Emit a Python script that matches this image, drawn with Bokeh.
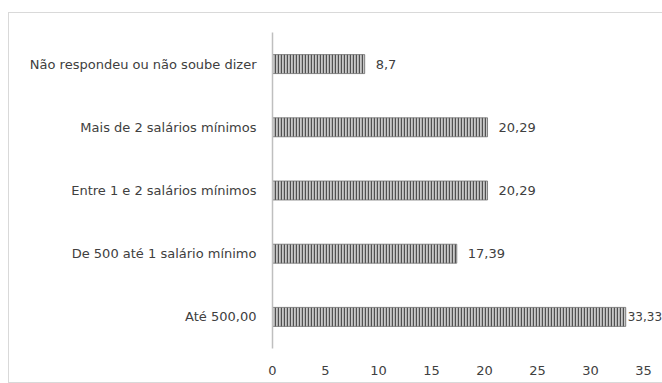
from bokeh.plotting import figure
from bokeh.models import ColumnDataSource, LabelSet, Range1d, FixedTicker, InlineStyleSheet
from bokeh.core.properties import value
from bokeh.embed import file_html
from bokeh.resources import INLINE

# Income brackets, listed bottom to top
categories = [
    "Até 500,00",
    "De 500 até 1 salário mínimo",
    "Entre 1 e 2 salários mínimos",
    "Mais de 2 salários mínimos",
    "Não respondeu ou não soube dizer",
]
values = [33.33, 17.39, 20.29, 20.29, 8.7]
x_ticks = [0, 5, 10, 15, 20, 25, 30, 35]

X_MAX = 36.8
labels = [f"{v:g}".replace(".", ",") for v in values]
# labels near the right edge sit tighter to their bar, a touch smaller
near_edge = [v > 30 for v in values]
offsets = [2 if e else 11 for e in near_edge]
sizes = ["12px" if e else "13px" for e in near_edge]
source = ColumnDataSource(dict(cat=categories, val=values, lab=labels,
                               off=offsets, size=sizes))

FONT = "DejaVu Sans"
TEXT_COLOR = "#404040"

p = figure(
    width=662, height=383,
    y_range=categories,
    x_range=Range1d(0, X_MAX),
    output_backend="svg", toolbar_location=None,
    min_border_left=272, min_border_right=0,
    min_border_top=32, min_border_bottom=35,
)
p.outline_line_color = None
p.background_fill_color = "white"
p.border_fill_color = "white"
p.y_range.range_padding = 0

# light frame around the whole chart
p.stylesheets = [InlineStyleSheet(css="""
:host { position: relative; overflow: hidden; }
:host::after {
  content: ""; position: absolute; pointer-events: none;
  left: 8px; top: 12px; right: -10px; bottom: 0px;
  border: 1px solid #d9d9d9;
}
""")]

p.hbar(
    y="cat", right="val", left=0, height=0.3, source=source,
    fill_color="#c8c8c8", line_color="#6e6e6e", line_width=0.8,
    hatch_pattern="vertical_line", hatch_color="#505050",
    hatch_scale=3, hatch_weight=1.4,
)

p.add_layout(LabelSet(
    x="val", y="cat", text="lab", source=source,
    x_offset="off", text_baseline="middle",
    text_font=value(FONT), text_font_size="size", text_color=TEXT_COLOR,
))

p.xgrid.visible = False
p.ygrid.visible = False

p.xaxis.ticker = FixedTicker(ticks=x_ticks)
p.xaxis.axis_line_color = None
p.xaxis.major_tick_line_color = None
p.xaxis.minor_tick_line_color = None
p.xaxis.major_label_standoff = 11
p.xaxis.major_label_text_font = FONT
p.xaxis.major_label_text_font_size = "13px"
p.xaxis.major_label_text_color = TEXT_COLOR

p.yaxis.axis_line_color = "#bfbfbf"
p.yaxis.axis_line_width = 1.5
p.yaxis.major_tick_line_color = None
p.yaxis.minor_tick_line_color = None
p.yaxis.major_label_standoff = 10
p.yaxis.major_label_text_font = FONT
p.yaxis.major_label_text_font_size = "13px"
p.yaxis.major_label_text_color = TEXT_COLOR

open("out.html", "w").write(file_html(p, INLINE))
